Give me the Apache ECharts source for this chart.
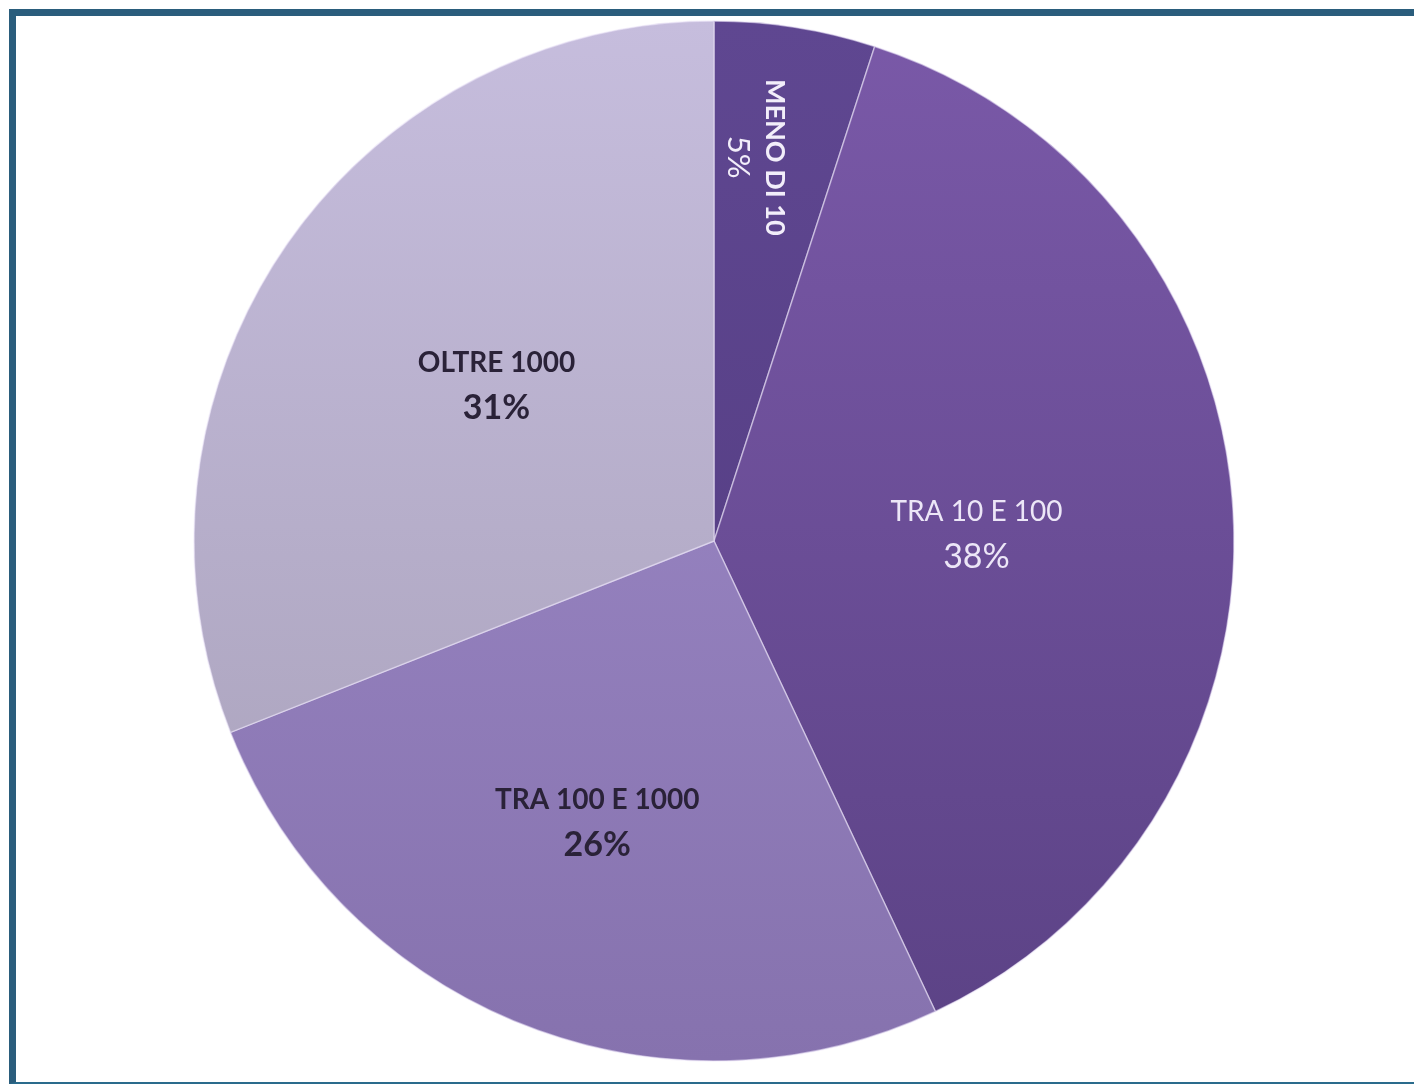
<!DOCTYPE html>
<html>
<head>
<meta charset="utf-8">
<script src="https://cdn.jsdelivr.net/npm/echarts@6/dist/echarts.min.js"></script>
<style>
  html, body { margin: 0; padding: 0; background: #ffffff; overflow: hidden; }
  #frame { position: absolute; left: 9px; top: 9px; width: 1398px; height: 1066px;
           border-top: 7px solid #2a5d7c; border-left: 7px solid #2a5d7c; border-bottom: 2px solid #2a6b8c; }
  #chart { position: absolute; left: 0; top: 0; width: 1417px; height: 1084px; }
</style>
</head>
<body>
<div id="frame"></div>
<div id="chart"></div>
<script>
const categories = ['MENO DI 10', 'TRA 10 E 100', 'TRA 100 E 1000', 'OLTRE 1000'];
const values = [5, 38, 26, 31];
const percentLabels = ['5%', '38%', '26%', '31%'];

const topColors = ['#5f4791', '#7a59a8', '#a18ecc', '#c6bddd'];
const bottomColors = ['#513a7e', '#5b4285', '#8672ae', '#a59eb6'];
const labelColors = ['#f2eefa', '#ece6f7', '#2a2238', '#2a2238'];

function grad(i) {
  return {
    type: 'linear', x: 0, y: 21, x2: 0, y2: 1061, global: true,
    colorStops: [{ offset: 0, color: topColors[i] }, { offset: 1, color: bottomColors[i] }]
  };
}

function richFor(i, weight) {
  return {
    n: { fontSize: 28, fontWeight: weight, lineHeight: 45, fontFamily: 'Lato', color: labelColors[i] },
    p: { fontSize: 34, fontWeight: weight, lineHeight: 45, fontFamily: 'Lato', color: labelColors[i] }
  };
}

const chart = echarts.init(document.getElementById('chart'), null, { renderer: 'canvas' });
const option = {
  backgroundColor: 'transparent',
  animation: false,
  series: [{
    type: 'pie',
    center: [714, 541],
    radius: [0, 520],
    startAngle: 90,
    clockwise: true,
    avoidLabelOverlap: false,
    itemStyle: { borderColor: 'rgba(235,228,248,0.55)', borderWidth: 1.5 },
    label: {
      show: true,
      position: 'inside',
      fontFamily: 'Lato',
      formatter: function (p) { return '{n|' + p.name + '}\n{p|' + percentLabels[p.dataIndex] + '}'; }
    },
    labelLine: { show: false },
    labelLayout: function (params) {
      if (params.dataIndex === 0) {
        return { dx: -124, dy: -2, rotate: -90 };
      }
      if (params.dataIndex === 1) {
        return { dy: 10 };
      }
      if (params.dataIndex === 2) {
        return { dx: -20, dy: 37 };
      }
      return { dy: -8 };
    },
    data: categories.map(function (c, i) {
      const item = {
        name: c,
        value: values[i],
        itemStyle: { color: grad(i) },
        label: { color: labelColors[i], rich: richFor(i, i >= 2 ? 'bold' : 'normal') }
      };
      if (i === 0) {
        item.label.rich = {
          n: { fontSize: 27, fontWeight: 'bold', lineHeight: 38, fontFamily: 'Lato', color: labelColors[0] },
          p: { fontSize: 31, fontWeight: 'normal', lineHeight: 36, fontFamily: 'Lato', color: labelColors[0] }
        };
      }
      return item;
    })
  }]
};
chart.setOption(option);
</script>
</body>
</html>
